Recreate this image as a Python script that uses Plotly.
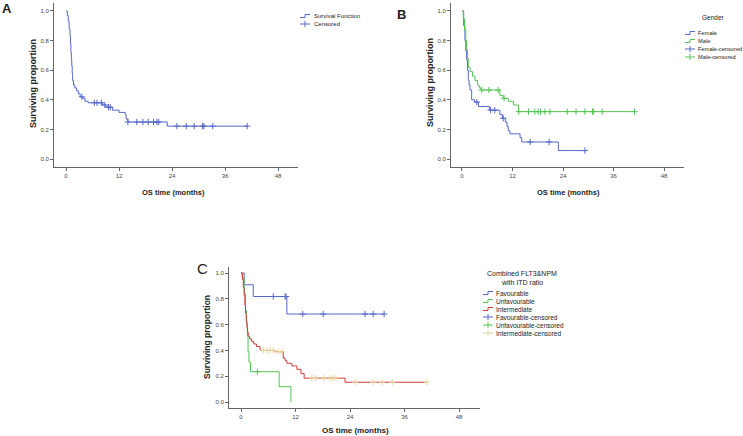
import numpy as np
import plotly.graph_objects as go

W, H = 743, 436

# ---------------- data ----------------
# Panel A: all patients
A_time = [0, 0.3, 0.5, 0.7, 0.9, 1.0, 1.1, 1.2, 1.3, 1.4, 1.5, 1.7, 2.0, 2.4, 2.8, 3.2, 3.8, 4.3, 5.0,
          8.3, 9.0, 10.5, 12.0, 13.4, 13.6, 14.0, 22.9]
A_surv = [1.0, 0.97, 0.93, 0.88, 0.83, 0.78, 0.72, 0.67, 0.63, 0.58, 0.53, 0.50, 0.48, 0.46, 0.44, 0.42, 0.41, 0.39, 0.38,
          0.365, 0.35, 0.33, 0.315, 0.30, 0.27, 0.25, 0.222]
A_end = 41.0
A_cens = [3.6, 6.4, 7.0, 8.0, 8.8, 9.6, 10.0, 14.0, 16.0, 17.4, 18.6, 19.8, 20.6, 21.0,
          25.1, 27.2, 29.0, 30.9, 31.2, 33.2, 41.0]

# Panel B: gender
F_time = [0, 0.4, 0.7, 0.9, 1.1, 1.3, 1.5, 1.7, 1.9, 2.3, 3.0, 3.9, 6.5, 9.0, 9.6, 10.3, 10.7, 11.0, 11.4, 13.8, 14.2, 22.9]
F_surv = [1.0, 0.9, 0.8, 0.73, 0.67, 0.6, 0.53, 0.5, 0.466, 0.40, 0.385, 0.355, 0.33, 0.30, 0.275, 0.25, 0.22, 0.19, 0.17,
          0.145, 0.115, 0.057]
F_end = 29.2
F_cens = [3.5, 6.8, 7.8, 9.8, 16.2, 20.7, 29.2]

M_time = [0, 0.3, 0.6, 0.9, 1.1, 1.3, 1.5, 1.9, 2.5, 3.1, 3.7, 4.1, 4.5, 9.0, 9.8, 11.0, 12.2, 13.4]
M_surv = [1.0, 0.95, 0.87, 0.8, 0.74, 0.68, 0.62, 0.59, 0.56, 0.53, 0.50, 0.48, 0.466, 0.43, 0.41, 0.39, 0.365, 0.32]
M_end = 41.0
M_cens = [4.7, 6.4, 8.6, 10.0, 13.5, 15.8, 17.3, 18.1, 18.7, 19.7, 20.9, 25.0, 27.1, 29.2, 31.0, 31.2, 33.3, 41.0]

# Panel C: combined FLT3 & NPM with ITD ratio
Fav_time = [0, 0.7, 2.7, 10.1]
Fav_surv = [1.0, 0.909, 0.818, 0.682]
Fav_end = 31.5
Fav_cens = [7.1, 9.7, 9.9, 13.6, 18.1, 27.3, 29.1, 31.5]

Unf_time = [0, 0.3, 0.7, 1.0, 1.2, 1.4, 1.55, 1.75, 2.1, 8.4, 11.0]
Unf_surv = [1.0, 0.96, 0.84, 0.71, 0.61, 0.51, 0.39, 0.31, 0.235, 0.118, 0.0]
Unf_end = 11.0
Unf_cens = [3.6]

Int_time = [0, 0.3, 0.5, 0.7, 0.85, 1.0, 1.15, 1.3, 1.45, 1.6, 1.9, 2.3, 2.8, 3.4, 4.2, 7.5, 9.3, 9.7,
            10.1, 11.2, 12.3, 13.2, 13.9, 22.9]
Int_surv = [1.0, 0.95, 0.89, 0.82, 0.75, 0.69, 0.63, 0.58, 0.54, 0.51, 0.49, 0.47, 0.45, 0.43, 0.40, 0.39, 0.34, 0.32,
            0.30, 0.28, 0.253, 0.22, 0.185, 0.153]
Int_end = 40.9
Int_cens = [4.9, 5.7, 6.4, 7.1, 8.2, 9.0, 15.6, 16.4, 18.3, 19.8, 20.3, 20.9, 25.1, 29.1, 31.0, 33.3, 40.9]

x_ticks = [0, 12, 24, 36, 48]
y_ticks = [0.0, 0.2, 0.4, 0.6, 0.8, 1.0]

BLUE = "#5469c9"
GREEN = "#55c655"
RED = "#cf3b3b"
TAN = "#e6d49a"
FONT = "Liberation Sans, Arial, sans-serif"

fig = go.Figure()


def step_trace(times, surv, end, color, xa, ya):
    xs = list(times) + [end]
    ys = list(surv) + [surv[-1]]
    fig.add_trace(go.Scatter(x=xs, y=ys, mode="lines", line=dict(color=color, width=1, shape="hv"),
                             xaxis=xa, yaxis=ya, showlegend=False, hoverinfo="skip"))


def cens_trace(times, surv, cens, color, xa, ya):
    t = np.array(times)
    s = np.array(surv)
    idx = np.searchsorted(t, np.array(cens), side="right") - 1
    fig.add_trace(go.Scatter(x=cens, y=s[idx], mode="markers",
                             marker=dict(symbol="cross-thin", size=4.5, line=dict(color=color, width=1)),
                             xaxis=xa, yaxis=ya, showlegend=False, hoverinfo="skip"))


# Panel A
step_trace(A_time, A_surv, A_end, BLUE, "x", "y")
cens_trace(A_time, A_surv, A_cens, BLUE, "x", "y")
# Panel B
step_trace(F_time, F_surv, F_end, BLUE, "x2", "y2")
step_trace(M_time, M_surv, M_end, GREEN, "x2", "y2")
cens_trace(F_time, F_surv, F_cens, BLUE, "x2", "y2")
cens_trace(M_time, M_surv, M_cens, GREEN, "x2", "y2")
# Panel C
step_trace(Fav_time, Fav_surv, Fav_end, BLUE, "x3", "y3")
step_trace(Unf_time, Unf_surv, Unf_end, GREEN, "x3", "y3")
step_trace(Int_time, Int_surv, Int_end, RED, "x3", "y3")
cens_trace(Fav_time, Fav_surv, Fav_cens, BLUE, "x3", "y3")
cens_trace(Unf_time, Unf_surv, Unf_cens, GREEN, "x3", "y3")
cens_trace(Int_time, Int_surv, Int_cens, TAN, "x3", "y3")


def px(x):
    return x / W


def py(y):
    return 1 - y / H


def xaxis(dom, rng):
    return dict(domain=[px(dom[0]), px(dom[1])], range=rng, tickvals=x_ticks, ticktext=[str(v) for v in x_ticks],
                showline=True, linecolor="#666", linewidth=1, ticks="outside", ticklen=3, tickcolor="#666",
                showgrid=False, zeroline=False, tickfont=dict(size=6, color="#444", family=FONT), fixedrange=True)


def yaxis(dom, rng, anchor):
    return dict(domain=[py(dom[1]), py(dom[0])], range=rng, tickvals=y_ticks, ticktext=["%.1f" % v for v in y_ticks],
                showline=True, linecolor="#666", linewidth=1, ticks="outside", ticklen=3, tickcolor="#666",
                showgrid=False, zeroline=False, tickfont=dict(size=6, color="#444", family=FONT), anchor=anchor,
                fixedrange=True)


fig.update_layout(
    width=W, height=H, margin=dict(l=0, r=0, t=0, b=0),
    paper_bgcolor="white", plot_bgcolor="white",
    font=dict(family=FONT, color="#222"),
    xaxis=dict(xaxis((54, 298), [-2.72, 52.5]), anchor="y"),
    yaxis=yaxis((3, 167), [-0.054, 1.054], "x"),
    xaxis2=dict(xaxis((451, 684), [-2.61, 52.75]), anchor="y2"),
    yaxis2=yaxis((3, 167), [-0.054, 1.054], "x2"),
    xaxis3=dict(xaxis((229, 480), [-2.64, 52.6]), anchor="y3"),
    yaxis3=yaxis((266.7, 408), [-0.0465, 1.049], "x3"),
)

ann = []
shapes = []


def text(x, y, s, size, bold=False, angle=0, xanchor="center", color="#222", family=FONT):
    ann.append(dict(x=px(x), y=py(y), xref="paper", yref="paper", text=("<b>%s</b>" % s) if bold else s,
                    showarrow=False, textangle=angle, xanchor=xanchor, yanchor="middle",
                    font=dict(size=size, color=color, family=family)))


# panel letters
text(7, 8, "A", 13, bold=True)
text(401, 15, "B", 13, bold=True)
text(203, 268, "C", 15)

# axis titles
text(173, 192, "OS time (months)", 7.5, bold=True)
text(568, 192, "OS time (months)", 7.5, bold=True)
text(355, 430, "OS time (months)", 8, bold=True)
text(33, 84, "Surviving proportion", 9, bold=True, angle=-90)
text(430, 83, "Surviving proportion", 9, bold=True, angle=-90)
text(207, 337, "Surviving proportion", 8.5, bold=True, angle=-90)


def step_icon(x0, y, color):
    shapes.append(dict(type="path", xref="paper", yref="paper",
                       path="M %f,%f L %f,%f L %f,%f L %f,%f" % (px(x0), py(y + 1.5), px(x0 + 5), py(y + 1.5),
                                                                  px(x0 + 5), py(y - 1.5), px(x0 + 10), py(y - 1.5)),
                       line=dict(color=color, width=1)))


def cross_icon(x0, y, color):
    shapes.append(dict(type="line", xref="paper", yref="paper", x0=px(x0), x1=px(x0 + 10), y0=py(y), y1=py(y),
                       line=dict(color=color, width=1)))
    shapes.append(dict(type="line", xref="paper", yref="paper", x0=px(x0 + 5), x1=px(x0 + 5), y0=py(y - 3),
                       y1=py(y + 3), line=dict(color=color, width=1)))


# Legend A
step_icon(300, 16, BLUE)
text(312, 16, "Survival Function", 6, xanchor="left")
cross_icon(300, 24, BLUE)
text(312, 24, "Censored", 6, xanchor="left")

# Legend B
text(713, 18, "Gender", 6.5)
legB = [("Female", BLUE, "s"), ("Male", GREEN, "s"), ("Female-censored", BLUE, "c"), ("Male-censored", GREEN, "c")]
for i, (lab, col, kind) in enumerate(legB):
    yy = 33 + 8 * i
    (step_icon if kind == "s" else cross_icon)(685, yy, col)
    text(696, yy, lab, 5.7, xanchor="left")

# Legend C
text(522, 273, "Combined FLT3&NPM", 7)
text(522, 282, "with ITD ratio", 7)
legC = [("Favourable", BLUE, "s"), ("Unfavourable", GREEN, "s"), ("Intermediate", RED, "s"),
        ("Favourable-censored", BLUE, "c"), ("Unfavourable-censored", GREEN, "c"),
        ("Intermediate-censored", TAN, "c")]
for i, (lab, col, kind) in enumerate(legC):
    yy = 293 + 8 * i
    (step_icon if kind == "s" else cross_icon)(483, yy, col)
    text(494, yy, lab, 6.5, xanchor="left")

fig.update_layout(annotations=ann, shapes=shapes)
fig.write_html("out.html", config={"displayModeBar": False},
               post_script="document.body.style.margin='0';document.body.style.overflow='hidden';")
